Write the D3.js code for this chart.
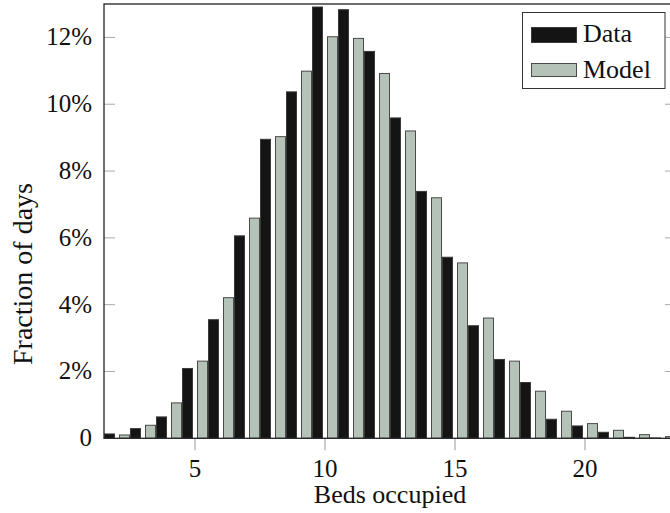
<!DOCTYPE html>
<html><head><meta charset="utf-8">
<script src="https://cdn.jsdelivr.net/npm/d3@7"></script>
<style>body{margin:0;background:#fff}svg{display:block}</style>
</head><body><svg id="c" width="670" height="513"></svg>
<script>
const beds = [2,3,4,5,6,7,8,9,10,11,12,13,14,15,16,17,18,19,20,21,22,23];
const dataPct = [0.13,0.29,0.64,2.09,3.55,6.06,8.95,10.37,12.91,12.83,11.58,9.59,7.39,5.42,3.37,2.36,1.67,0.57,0.37,0.18,0.03,0.01];
const modelPct = [0.10,0.39,1.06,2.31,4.21,6.59,9.03,10.99,12.02,11.97,10.92,9.20,7.20,5.25,3.60,2.31,1.41,0.81,0.44,0.24,0.11,0.05];
const xTicks = [5,10,15,20];
const yTicks = [0,2,4,6,8,10,12];
const seriesNames = ["Data","Model"];

const FONT = "'Liberation Serif', 'DejaVu Serif', 'Times New Roman', Times, serif";
const svg = d3.select("#c");
const L=104, R=676, T=4, B=438.3;
const x = d3.scaleLinear().domain([1.5,23.5]).range([L,R]);
const y = d3.scaleLinear().domain([0,13]).range([B,T]);
const colors = {Data:"#141414", Model:"#b4c2b8"};
const strokes = {Data:"#3a3a3a", Model:"#4a4a4a"};
const bw = 10, shift = 7.5;

function txt(sel){ return sel.append("text").attr("font-family",FONT).attr("fill","#111"); }

svg.append("clipPath").attr("id","clip").append("rect").attr("x",L).attr("y",T).attr("width",R-L).attr("height",B-T);
const g = svg.append("g").attr("clip-path","url(#clip)");

const rows = beds.map((b,i)=>({b, d:dataPct[i], m:modelPct[i]}));
g.selectAll("rect.d").data(rows).join("rect")
  .attr("x",r=>x(r.b)-shift-bw/2).attr("width",bw)
  .attr("y",r=>y(r.d)).attr("height",r=>B-y(r.d))
  .attr("fill",colors.Data).attr("stroke",strokes.Data).attr("stroke-width",1);
g.selectAll("rect.m").data(rows).join("rect")
  .attr("x",r=>x(r.b)+shift-bw/2).attr("width",bw)
  .attr("y",r=>y(r.m)).attr("height",r=>B-y(r.m))
  .attr("fill",colors.Model).attr("stroke",strokes.Model).attr("stroke-width",1);

yTicks.forEach(t=>{
  if(t>0){
    svg.append("line").attr("x1",L).attr("x2",L+11).attr("y1",y(t)).attr("y2",y(t)).attr("stroke","#aaa").attr("stroke-width",1);
    svg.append("line").attr("x1",R-11).attr("x2",R).attr("y1",y(t)).attr("y2",y(t)).attr("stroke","#aaa").attr("stroke-width",1);
  }
  txt(svg).attr("x",92).attr("y",y(t)+8).attr("text-anchor","end").attr("font-size",25)
    .text(t===0?"0":t+"%");
});
xTicks.forEach(t=>{
  svg.append("line").attr("x1",x(t)).attr("x2",x(t)).attr("y1",B).attr("y2",B+12).attr("stroke","#999").attr("stroke-width",1);
  txt(svg).attr("x",x(t)).attr("y",477).attr("text-anchor","middle").attr("font-size",25).text(t);
});

svg.append("rect").attr("x",L).attr("y",T).attr("width",R-L).attr("height",B-T)
  .attr("fill","none").attr("stroke","#222").attr("stroke-width",1.3);

txt(svg).attr("x",(L+R)/2).attr("y",503).attr("text-anchor","middle").attr("font-size",26).text("Beds occupied");
txt(svg).attr("transform","translate(32,274) rotate(-90)").attr("text-anchor","middle").attr("font-size",28).text("Fraction of days");

const lg = svg.append("g");
lg.append("rect").attr("x",522.5).attr("y",12.5).attr("width",142.5).attr("height",76).attr("fill","#fff").attr("stroke","#333").attr("stroke-width",1);
seriesNames.forEach((n,i)=>{
  const yy = i===0?27.5:63.5;
  lg.append("rect").attr("x",531.5).attr("y",yy).attr("width",45).attr("height",i===0?15:13)
    .attr("fill",colors[n]).attr("stroke",strokes[n]).attr("stroke-width",1);
  txt(lg).attr("x",583).attr("y",i===0?42:78).attr("font-size",26).text(n);
});
</script></body></html>
